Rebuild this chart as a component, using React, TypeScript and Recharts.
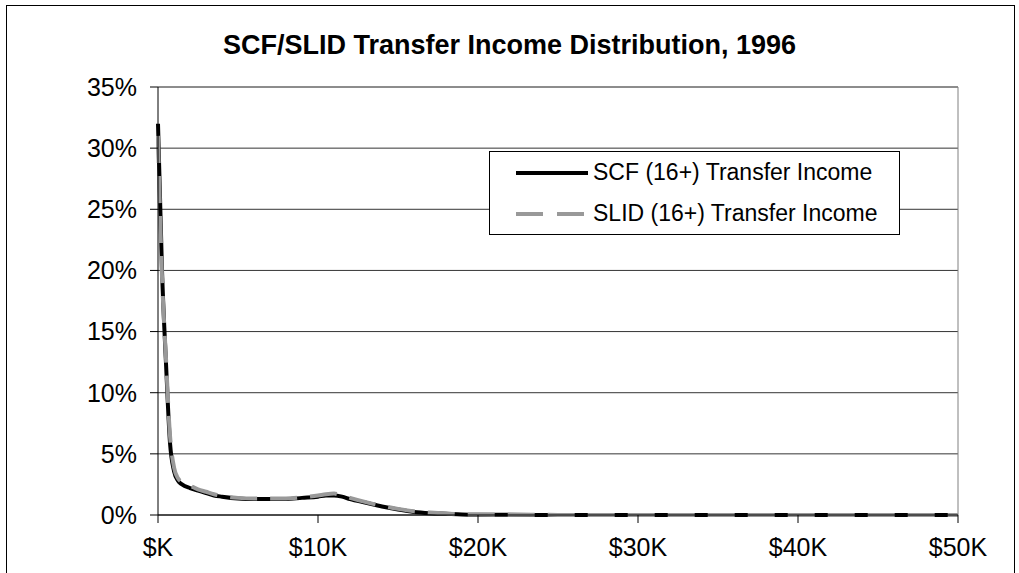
import { CartesianGrid, Line, LineChart, ReferenceLine, XAxis, YAxis } from "recharts"

const income = [
  0, 250, 500, 750, 1000, 1250, 1500, 2000, 2500, 3000, 3500, 4000, 5000, 6000, 7000, 8000, 9000, 10000,
  10500, 11000, 11500, 12000, 13000, 14000, 15000, 16000, 17000, 18000, 19000, 20000, 25000, 30000, 35000,
  40000, 45000, 50000,
]
const scf = [
  32, 20, 12.4, 5.9, 3.6, 2.8, 2.5, 2.2, 2.0, 1.8, 1.6, 1.5, 1.35, 1.3, 1.3, 1.3, 1.4, 1.5, 1.6, 1.6, 1.5, 1.3,
  1.0, 0.7, 0.45, 0.25, 0.15, 0.1, 0.05, 0.03, 0, 0, 0, 0, 0, 0,
]
const slid = [
  31, 19.5, 12.8, 6.5, 3.9, 3.0, 2.7, 2.4, 2.1, 1.9, 1.7, 1.55, 1.4, 1.35, 1.35, 1.35, 1.45, 1.6, 1.7, 1.75, 1.6,
  1.4, 1.05, 0.75, 0.5, 0.3, 0.2, 0.12, 0.06, 0.04, 0.01, 0, 0, 0, 0, 0,
]
const xTicks = [0, 10000, 20000, 30000, 40000, 50000]
const yTicks = [0, 5, 10, 15, 20, 25, 30, 35]

const data = income.map((x, i) => ({ income: x, scf: scf[i], slid: slid[i] }))

const font = "Arial, 'Liberation Sans', sans-serif"

function LegendBox() {
  const row = (label: string, color: string, dash?: string) => (
    <div style={{ display: "flex", alignItems: "center", height: 41 }}>
      <svg width={76} height={10} style={{ marginRight: 3 }}>
        <line x1={2} y1={5} x2={74} y2={5} stroke={color} strokeWidth={4} strokeDasharray={dash} />
      </svg>
      <span>{label}</span>
    </div>
  )
  return (
    <div
      style={{
        position: "absolute",
        left: 489,
        top: 151,
        width: 411,
        height: 84,
        boxSizing: "border-box",
        border: "1px solid #000",
        background: "#fff",
        padding: "0 0 0 24px",
        fontFamily: font,
        fontSize: 23,
        color: "#000",
      }}
    >
      {row("SCF (16+) Transfer Income", "#000")}
      {row("SLID (16+) Transfer Income", "#999999", "27 14")}
    </div>
  )
}

export default function App() {
  return (
    <div style={{ position: "fixed", left: 0, top: 0, width: 1019, height: 573, overflow: "hidden", background: "#fff" }}>
      <div
        style={{
          position: "absolute",
          left: 6,
          top: 5,
          width: 1007,
          height: 640,
          border: "1px solid #000",
        }}
      />
      <div
        style={{
          position: "absolute",
          left: 0,
          top: 30,
          width: 1019,
          textAlign: "center",
          fontFamily: font,
          fontWeight: "bold",
          fontSize: 27,
        }}
      >
        SCF/SLID Transfer Income Distribution, 1996
      </div>
      <div style={{ position: "absolute", left: 0, top: 0 }}>
        <LineChart width={1019} height={573} data={data} margin={{ top: 87, right: 61, bottom: 0, left: 0 }}>
          <CartesianGrid horizontal vertical={false} stroke="#000" strokeOpacity={0.8} />
          <ReferenceLine y={35} stroke="#808080" />
          <ReferenceLine x={50000} stroke="#808080" />
          <XAxis
            dataKey="income"
            type="number"
            domain={[0, 50000]}
            ticks={xTicks}
            tickFormatter={(v) => `$${v === 0 ? "" : v / 1000}K`}
            stroke="#000"
            tick={{ fill: "#000", fontSize: 25, fontFamily: font }}
            tickSize={8}
            tickMargin={15}
            height={58}
            interval={0}
          />
          <YAxis
            type="number"
            domain={[0, 35]}
            ticks={yTicks}
            tickFormatter={(v) => `${v}%`}
            stroke="#000"
            tick={{ fill: "#000", fontSize: 25, fontFamily: font }}
            tickSize={8}
            tickMargin={13}
            width={158}
            interval={0}
          />
          <Line
            type="monotone"
            dataKey="scf"
            stroke="#000"
            strokeWidth={4}
            dot={false}
            isAnimationActive={false}
          />
          <Line
            type="monotone"
            dataKey="slid"
            stroke="#999999"
            strokeWidth={4}
            strokeDasharray="27 13"
            dot={false}
            isAnimationActive={false}
          />
        </LineChart>
      </div>
      <LegendBox />
    </div>
  )
}
